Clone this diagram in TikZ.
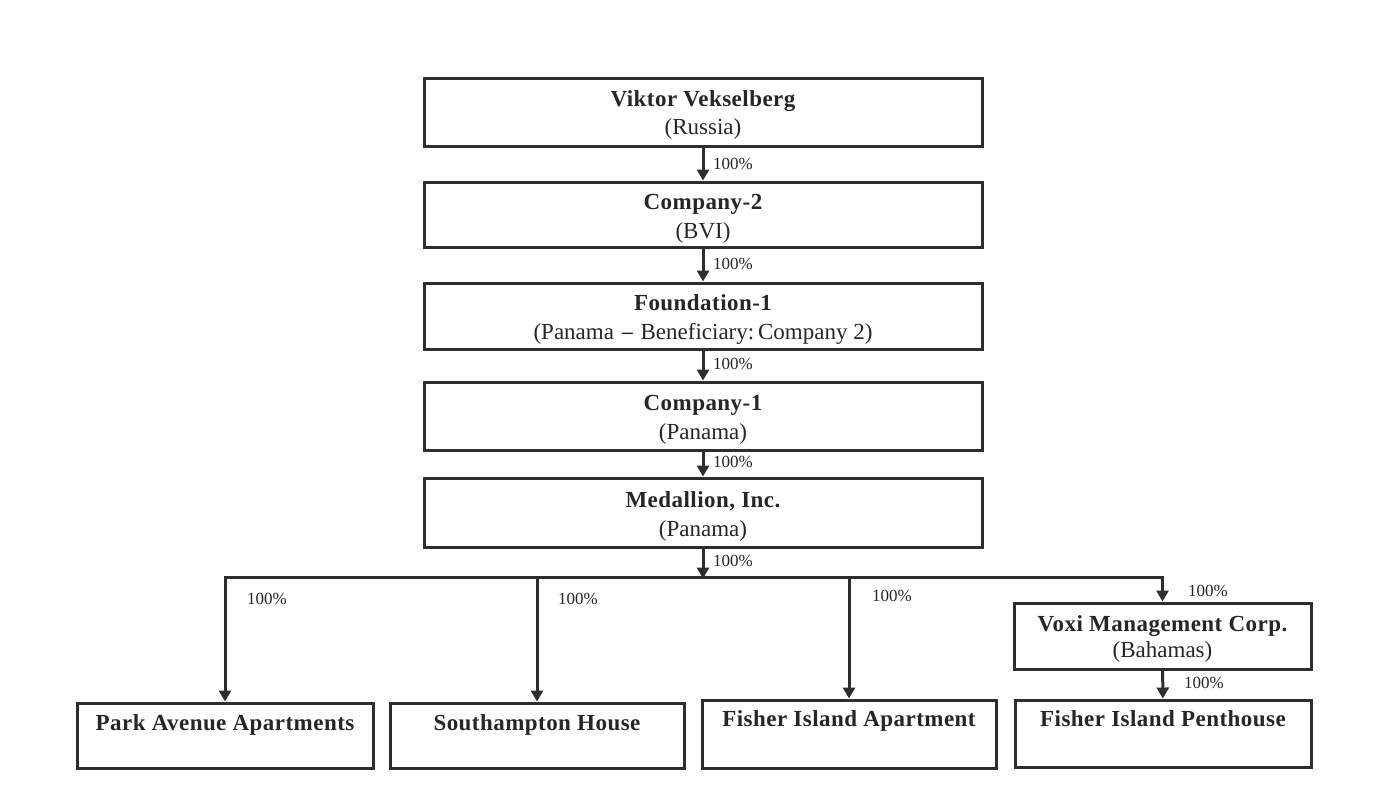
\documentclass[tikz,border=0pt]{standalone}
\usepackage{fontspec}
\setmainfont{Liberation Serif}
\usetikzlibrary{arrows.meta}
\begin{document}
\begin{tikzpicture}[x=1pt,y=-1pt,
  box/.style={draw=black!82, line width=3pt, rectangle, inner sep=0pt},
  ttl/.style={font=\fontsize{23}{25}\selectfont\bfseries\addfontfeatures{LetterSpace=2}, inner sep=0pt, text=black!85, text height=15pt, text depth=5pt},
  sub/.style={font=\fontsize{23}{25}\selectfont, inner sep=0pt, text=black!85, text height=15pt, text depth=5pt},
  pct/.style={font=\fontsize{17}{19}\selectfont, inner sep=0pt, text=black!85, text height=12pt, text depth=3pt},
  conn/.style={line width=3pt, draw=black!82, -{Triangle[width=12pt,length=11pt]}},
  ]
\useasboundingbox[fill=white] (0,0) rectangle (1386,804);

% main chain boxes
\node[box, minimum width=558pt, minimum height=68pt] (V)  at (703,112)   {};
\node[box, minimum width=558pt, minimum height=65pt] (C2) at (703,214.5) {};
\node[box, minimum width=558pt, minimum height=66pt] (F1) at (703,316)   {};
\node[box, minimum width=558pt, minimum height=68pt] (C1) at (703,416)   {};
\node[box, minimum width=558pt, minimum height=69pt] (M)  at (703,512.5) {};

\node[ttl] (Vt)  at (703,101) {Viktor Vekselberg};
\node[sub] (Vs)  at (703,129) {(Russia)};
\node[ttl] (C2t) at (703,204) {Company-2};
\node[sub] (C2s) at (703,233) {(BVI)};
\node[ttl] (F1t) at (703,305) {Foundation-1};
\node[sub] (F1s) at (703,334) {(Panama {\fontspec{DejaVu Serif}\fontsize{18}{20}\selectfont −} Beneficiary:\,Company 2)};
\node[ttl] (C1t) at (703,405) {Company-1};
\node[sub] (C1s) at (703,434) {(Panama)};
\node[ttl] (Mt)  at (703,502) {Medallion, Inc.};
\node[sub] (Ms)  at (703,531) {(Panama)};

% lower boxes
\node[box, minimum width=297pt, minimum height=66pt] (X)  at (1162.5,636) {};
\node[ttl] (Xt) at (1162.5,626) {Voxi Management Corp.};
\node[sub] (Xs) at (1162.5,652) {(Bahamas)};

\node[box, minimum width=296pt, minimum height=65pt] (P)  at (225,735.5) {};
\node[box, minimum width=294pt, minimum height=65pt] (S)  at (537,735.5) {};
\node[box, minimum width=294pt, minimum height=68pt] (FA) at (849,734)   {};
\node[box, minimum width=296pt, minimum height=67pt] (FP) at (1163,733.5) {};
\node[ttl] (Pt)  at (225,725)  {Park Avenue Apartments};
\node[ttl] (St)  at (537,725)  {Southampton House};
\node[ttl] (FAt) at (849,721)  {Fisher Island Apartment};
\node[ttl] (FPt) at (1163,721) {Fisher Island Penthouse};

% connectors
\draw[conn] (V) -- (C2);
\draw[conn] (C2) -- (F1);
\draw[conn] (F1) -- (C1);
\draw[conn] (C1) -- (M);
\coordinate (bus) at (703,577);
\draw[conn] (M.south) -- ([yshift=-1.5pt]bus);
\draw[conn] (bus) -| (P.north);
\draw[conn] (bus) -| (X.north);
\draw[conn] (S.north |- bus) -- (S.north);
\draw[conn] (FA.north |- bus) -- (FA.north);
\draw[conn] (X) -- (FP);

% labels
\node[pct, anchor=west] (l1) at (713,165) {100\%};
\node[pct, anchor=west] (l2) at (713,265) {100\%};
\node[pct, anchor=west] (l3) at (713,365) {100\%};
\node[pct, anchor=west] (l4) at (713,463) {100\%};
\node[pct, anchor=west] (l5) at (713,562) {100\%};
\node[pct] (l6)  at (267,600)  {100\%};
\node[pct] (l7)  at (578,600)  {100\%};
\node[pct] (l8)  at (892,597)  {100\%};
\node[pct] (l9)  at (1208,592) {100\%};
\node[pct] (l10) at (1204,684) {100\%};
\end{tikzpicture}
\end{document}
